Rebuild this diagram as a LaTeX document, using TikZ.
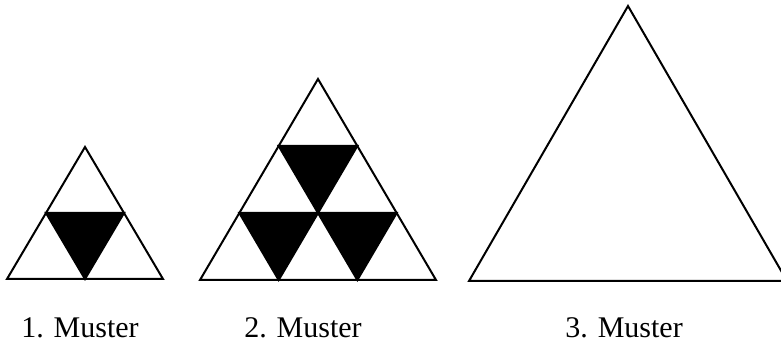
\documentclass[tikz,border=0pt]{standalone}
\usepackage{fontspec}
\setmainfont{Liberation Serif}
\usetikzlibrary{calc}
\tikzset{
 muster edge/.style={line width=2pt,line join=miter},
 muster black/.style={fill=black,draw=black,line width=2pt,line join=miter},
 muster label/.style={font=\fontsize{30}{36}\selectfont,anchor=base,inner sep=0pt}
}
\begin{document}
\begin{tikzpicture}[x=1pt,y=1pt]
 \useasboundingbox (0,0) rectangle (781,347);
 \clip (0,0) rectangle (781,347);

 % Muster 1: two rows, one black triangle
 \begin{scope}[shift={(7pt,68pt)},x={(78pt,0pt)},y={(39pt,66pt)}]
  \fill[muster black] (0,1) -- (1,1) -- (1,0) -- cycle;
  \draw[muster edge] (0,0) -- (2,0) -- (0,2) -- cycle;
 \end{scope}

 % Muster 2: three rows, three black triangles
 \begin{scope}[shift={(200pt,67pt)},x={(78.67pt,0pt)},y={(39.33pt,67pt)}]
  \foreach \i/\j in {0/0,1/0,0/1}
   \fill[muster black] (\i,\j+1) -- (\i+1,\j+1) -- (\i+1,\j) -- cycle;
  \draw[muster edge] (0,0) -- (3,0) -- (0,3) -- cycle;
 \end{scope}

 % Muster 3: left empty
 \begin{scope}[shift={(469pt,66pt)},x={(79.5pt,0pt)},y={(39.75pt,68.75pt)}]
  \draw[muster edge] (0,0) -- (4,0) -- (0,4) -- cycle;
 \end{scope}

 \node[muster label] (l1) at (80,9) {1. Muster};
 \node[muster label] (l2) at (303,9) {2. Muster};
 \node[muster label] (l3) at (624,9) {3. Muster};
\end{tikzpicture}
\end{document}
